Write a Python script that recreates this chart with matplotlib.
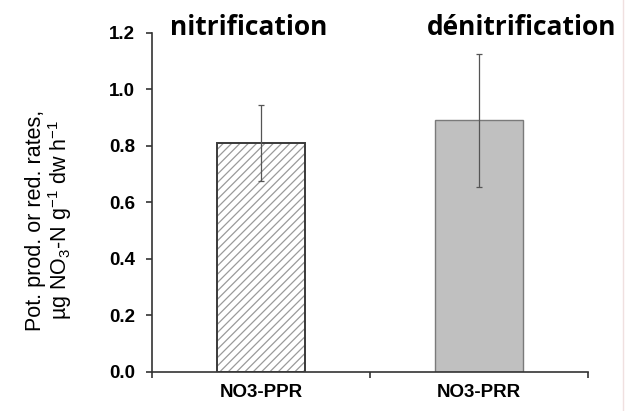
import matplotlib
matplotlib.use('Agg')
import matplotlib.pyplot as plt
from matplotlib.lines import Line2D
from matplotlib.ticker import FixedLocator, NullFormatter

# data
categories = ['NO3-PPR', 'NO3-PRR']
means = [0.81, 0.89]
errors = [0.135, 0.237]
titles = ['nitrification', 'dénitrification']

plt.rcParams['font.family'] = 'Liberation Sans'
plt.rcParams['mathtext.fontset'] = 'custom'
plt.rcParams['mathtext.rm'] = 'Liberation Sans'
plt.rcParams['mathtext.it'] = 'Liberation Sans'
plt.rcParams['hatch.linewidth'] = 0.9

fig = plt.figure(figsize=(6.25, 4.11), dpi=100)
ax = fig.add_axes([0.2432, 0.095, 0.6976, 0.825])

x = range(len(categories))
# hatched bar: hatch in grey, outline drawn separately in dark grey
ax.bar(x[0], means[0], width=0.4, color='white', edgecolor='#9a9a9a',
       hatch='////', linewidth=0, zorder=2)
ax.bar(x[0], means[0], width=0.4, fill=False, edgecolor='#3a3a3a',
       linewidth=1.4, zorder=3)
ax.bar(x[1], means[1], width=0.4, color='#c0c0c0', edgecolor='#7a7a7a',
       linewidth=1.0, zorder=2)
ax.errorbar(list(x), means, yerr=errors, fmt='none', ecolor='#555555',
            elinewidth=0.9, capsize=2.5, capthick=0.9, zorder=4)

yt = [0.0, 0.2, 0.4, 0.6, 0.8, 1.0, 1.2]
ax.set_xlim(-0.5, 1.5)
ax.set_ylim(0, 1.2)
ax.set_yticks(yt)
ax.set_yticklabels(['%.1f' % v for v in yt], fontweight='bold', fontsize=13.5)
ax.set_xticks(list(x))
ax.set_xticklabels(categories, fontweight='bold', fontsize=13.5)
ax.tick_params(axis='x', which='major', length=0, pad=9)
ax.xaxis.set_minor_locator(FixedLocator([-0.5, 0.5, 1.5]))
ax.xaxis.set_minor_formatter(NullFormatter())
ax.tick_params(axis='x', which='minor', length=4, width=1.2, color='#333333')
ax.tick_params(axis='y', length=4, width=1.2, color='#333333', pad=8)

for s in ['top', 'right']:
    ax.spines[s].set_visible(False)
for s in ['left', 'bottom']:
    ax.spines[s].set_linewidth(1.2)
    ax.spines[s].set_color('#333333')

ax.set_ylabel('Pot. prod. or red. rates,\n'
              'µg NO$_3$-N g$^{-1}$ dw h$^{-1}$',
              fontsize=15.5, labelpad=25, linespacing=1.05)
ax.yaxis.label.set_y(0.448)

fig.text(0.398, 0.932, titles[0], fontsize=19, fontweight='bold',
         family='Open Sans', ha='center', va='center')
fig.text(0.835, 0.932, titles[1], fontsize=19, fontweight='bold',
         family='Open Sans', ha='center', va='center')

# faint border on the right edge of the original picture
fig.add_artist(Line2D([0.9968, 0.9968], [0, 1], transform=fig.transFigure,
                      color='#f0e0e0', linewidth=1))

fig.savefig('out.png', dpi=100)
